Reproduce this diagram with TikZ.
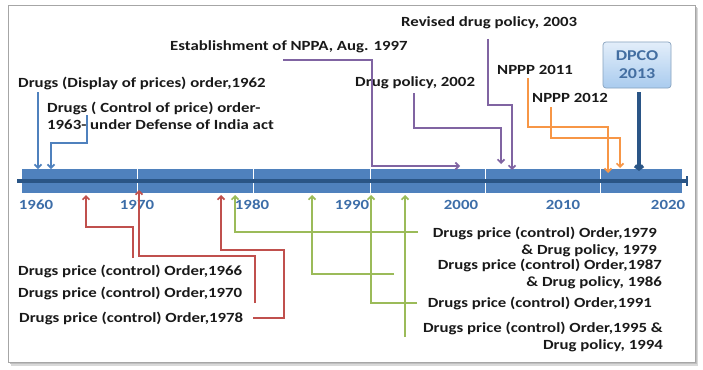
\documentclass[tikz,border=0pt]{standalone}
\usepackage{fontspec}
\setmainfont{Carlito}[FakeStretch=1.2]
\usetikzlibrary{arrows.meta}
\definecolor{cblue}{HTML}{4F81BD}
\definecolor{cdark}{HTML}{2A5586}
\definecolor{cyear}{HTML}{3C6DA8}
\definecolor{cpurple}{HTML}{8064A2}
\definecolor{corange}{HTML}{F79646}
\definecolor{cred}{HTML}{C0504D}
\definecolor{cgreen}{HTML}{9BBB59}
\definecolor{boxtop}{HTML}{E3EEFA}
\definecolor{boxbot}{HTML}{A9CBEE}
\begin{document}
\begin{tikzpicture}[x=1pt,y=-1pt,
  lbl/.style={font=\bfseries\fontsize{14}{17}\selectfont, text=black!90, inner sep=0pt},
  year/.style={font=\bfseries\fontsize{14}{17}\selectfont, text=cyear, inner sep=0pt},
  conn/.style={line width=1.7pt, -{Straight Barb[length=3.5pt,width=7pt]}},
  bconn/.style={conn, draw=cblue},
  pconn/.style={conn, draw=cpurple},
  oconn/.style={conn, draw=corange},
  rconn/.style={conn, draw=cred},
  gconn/.style={conn, draw=cgreen}]
\useasboundingbox (0,0) rectangle (703,369);
% frame with shadow
\fill[black!15] (11,8) rectangle (698,366);
\fill[black!25] (10,7) rectangle (697,364);
\draw[fill=white, draw=black!35, line width=0.6pt] (8,5) rectangle (695,362);
% timeline bar
\fill[cblue] (22,169) rectangle (682,193);
\foreach \x in {137,253,370,485,600} \draw[white, line width=0.8pt] (\x,169) -- (\x,193);
\coordinate (axL) at (17,181);
\coordinate (axR) at (688,181);
\draw[cdark, line width=3.2pt, -{Bar[width=10pt,line width=1.6pt]}] (axL) -- (axR);
% years
\node[year] (y60) at (36,205) {1960};
\node[year] (y70) at (137,205) {1970};
\node[year] (y80) at (252,205) {1980};
\node[year] (y90) at (352,205) {1990};
\node[year] (y00) at (461,205) {2000};
\node[year] (y10) at (563,205) {2010};
\node[year] (y20) at (668,205) {2020};
% top labels
\node[lbl, anchor=west] (t62) at (18,83) {Drugs (Display of prices) order,1962};
\node[lbl, anchor=west, align=left] (t63) at (47,116) {Drugs ( Control of price) order-\\1963- under Defense of India act};
\node[lbl, anchor=west] (tnppa) at (170,47) {Establishment of NPPA, Aug. 1997};
\node[lbl, anchor=west] (t02) at (355,83) {Drug policy, 2002};
\node[lbl, anchor=west] (t03) at (401,23) {Revised drug policy, 2003};
\node[lbl, anchor=west] (t11) at (497,70) {NPPP 2011};
\node[lbl, anchor=west] (t12) at (532,98) {NPPP 2012};
% DPCO box
\node[draw=boxbot!80!black, line width=0.7pt, rounded corners=3pt, minimum width=68pt, minimum height=46pt,
      top color=boxtop, bottom color=boxbot, align=center, inner sep=0pt,
      font=\bfseries\fontsize{15}{18}\selectfont, text=cblue!85!black] (dpco) at (637,65) {DPCO\\2013};
% bottom labels
\node[lbl, anchor=west] (t66) at (18,271) {Drugs price (control) Order,1966};
\node[lbl, anchor=west] (t70) at (18,293) {Drugs price (control) Order,1970};
\node[lbl, anchor=west] (t78) at (19,318) {Drugs price (control) Order,1978};
\node[lbl, anchor=east, align=right] (t79) at (657,241.5) {Drugs price (control) Order,1979\\\& Drug policy, 1979};
\node[lbl, anchor=east, align=right] (t87) at (662,274) {Drugs price (control) Order,1987\\\& Drug policy, 1986};
\node[lbl, anchor=east] (t91) at (652,303) {Drugs price (control) Order,1991};
\node[lbl, anchor=east, align=right] (t95) at (663,336.5) {Drugs price (control) Order,1995 \&\\Drug policy, 1994};
% connector coordinates
\coordinate (s62) at (38,92);   \coordinate (e62) at (38,169);
\coordinate (s63) at (87,115);  \coordinate (e63) at (51,169);
\coordinate (snppa) at (283,60); \coordinate (enppa) at (460,166);
\coordinate (s02) at (414,93);  \coordinate (e02) at (501,164);
\coordinate (s03) at (488,39);  \coordinate (e03) at (512,170);
\coordinate (s11) at (528,78);  \coordinate (e11) at (608,173);
\coordinate (s12) at (551,107); \coordinate (e12) at (620,168);
\coordinate (sdp) at (639,92);  \coordinate (edp) at (639,171);
\coordinate (s66) at (133,258); \coordinate (e66) at (86,195);
\coordinate (s70) at (255,303); \coordinate (e70) at (139,190);
\coordinate (s78) at (253,318); \coordinate (e78) at (221,195);
\coordinate (s79) at (418,232); \coordinate (e79) at (235,195);
\coordinate (s87) at (394,274); \coordinate (e87) at (312,195);
\coordinate (s91) at (417,303); \coordinate (e91) at (371,195);
\coordinate (s95) at (405,337); \coordinate (e95) at (405,195);
% connectors
\draw[bconn] (s62) -- (e62);
\draw[bconn] (s63) -- (87,143) -- (51,143) -- (e63);
\draw[pconn] (snppa) -- (372,60) -- (372,166) -- (enppa);
\draw[pconn] (s02) -- (414,128) -- (501,128) -- (e02);
\draw[pconn] (s03) -- (488,105) -- (512,105) -- (e03);
\draw[oconn] (s11) -- (528,127) -- (608,127) -- (e11);
\draw[oconn] (s12) -- (551,138) -- (620,138) -- (e12);
\draw[draw=cdark, line width=3.6pt, -{Straight Barb[length=3pt,width=8pt]}] (sdp) -- (edp);
\draw[rconn] (s66) -- (133,227) -- (86,227) -- (e66);
\draw[rconn] (s70) -- (255,256) -- (139,256) -- (e70);
\draw[rconn] (s78) -- (284,318) -- (284,250) -- (221,250) -- (e78);
\draw[gconn] (s79) -- (235,232) -- (e79);
\draw[gconn] (s87) -- (312,274) -- (e87);
\draw[gconn] (s91) -- (371,303) -- (e91);
\draw[gconn] (s95) -- (e95);
\end{tikzpicture}
\end{document}
